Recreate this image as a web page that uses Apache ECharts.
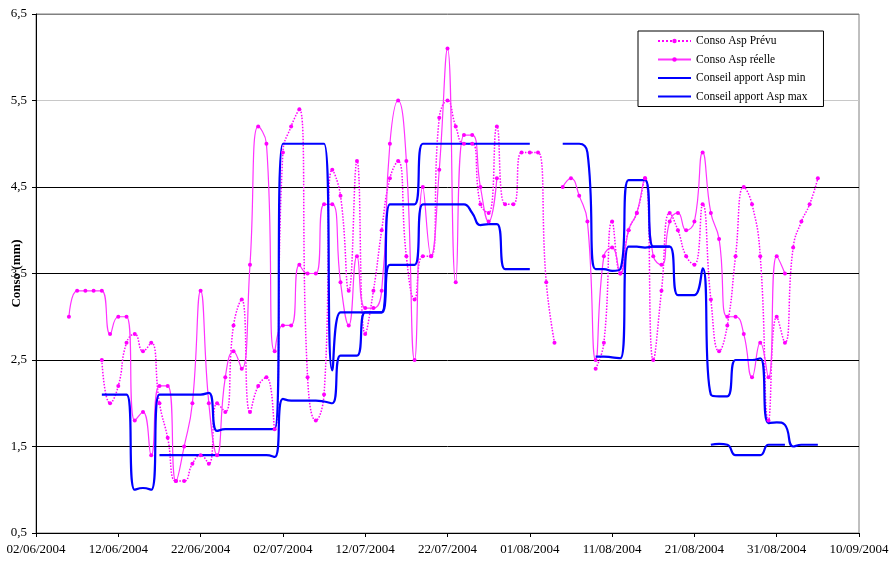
<!DOCTYPE html>
<html>
<head>
<meta charset="utf-8">
<script src="https://cdn.jsdelivr.net/npm/echarts@6/dist/echarts.min.js"></script>
<style>
html,body{margin:0;padding:0;background:#fff;}
#c{width:894px;height:564px;}
</style>
</head>
<body>
<div id="c"></div>
<script>
// ---- DATA ----
const startDate = '02/06/2004';
const endDate = '10/09/2004';
const yTickLabels = ['0,5','1,5','2,5','3,5','4,5','5,5','6,5'];
const seriesNames = ['Conso Asp Prévu','Conso Asp réelle','Conseil apport Asp min','Conseil apport Asp max'];

// Conso Asp Prévu (daily, from 10/06/2004)
const prevuFrom = '10/06/2004';
const prevu = [
  2.5, 2.0, 2.2, 2.7, 2.8, 2.6, 2.7, 2.0,
  1.6, 1.1, 1.1, 1.3, 1.4, 1.3, 2.0, 1.9,
  2.9, 3.2, 1.9, 2.2, 2.3, 1.7, 4.9, 5.2,
  5.4, 2.3, 1.8, 2.1, 4.7, 4.4, 3.3, 4.8,
  2.8, 3.3, 4.0, 4.6, 4.8, 3.7, 3.2, 3.7,
  3.7, 5.3, 5.5, 5.2, 5.0, 5.0, 4.3, 4.2,
  5.2, 4.3, 4.3, 4.9, 4.9, 4.9, 3.4, 2.7,
  null, null, null, null,
  2.4, 2.7, 4.1, 3.5, 4.0, 4.2, 4.6, 2.5,
  3.3, 4.2, 4.0, 3.7, 3.6, 4.3, 3.2, 2.6,
  2.9, 3.7, 4.5, 4.3, 3.7, 1.8, 3.0, 2.7,
  3.8, 4.1, 4.3, 4.6
];

// Conso Asp réelle (daily, from 06/06/2004)
const reelleFrom = '06/06/2004';
const reelle = [
  3.0, 3.3, 3.3, 3.3, 3.3,
  2.8, 3.0, 3.0, 1.8, 1.9, 1.4, 2.2, 2.2,
  1.1, 1.5, 2.0, 3.3, 2.0, 1.4, 2.3, 2.6,
  2.4, 3.6, 5.2, 5.0, 2.6, 2.9, 2.9, 3.6,
  3.5, 3.5, 4.3, 4.3, 3.4, 2.9, 3.7, 3.1,
  3.1, 3.3, 5.0, 5.5, 4.8, 2.5, 4.5, 3.7,
  4.7, 6.1, 3.4, 5.1, 5.1, 4.5, 4.1, 4.6,
  null, null, null, null, null, null, null,
  4.5, 4.6, 4.4, 4.1, 2.5, 3.7, 3.8, 3.5,
  4.0, 4.2, 4.6, 3.7, 3.6, 4.1, 4.2, 4.0,
  4.1, 4.9, 4.2, 3.9, 3.0, 3.0, 2.8, 2.3,
  2.7, 2.3, 3.7, 3.5
];

// Conseil apport Asp min (daily, from 17/06/2004)
const minFrom = '17/06/2004';
const conseilMin = [
  1.4, 1.4, 1.4, 1.4, 1.4, 1.4, 1.4, 1.4,
  1.4, 1.4, 1.4, 1.4, 1.4, 1.4, 1.38,
  2.05, 2.03, 2.03, 2.03, 2.03, 2.02, 2.0, 2.55,
  2.55, 2.55, 3.05, 3.05, 3.05, 3.6, 3.6, 3.6,
  3.6, 4.3, 4.3, 4.3, 4.3, 4.3, 4.3, 4.2,
  4.06, 4.07, 4.07, 3.55, 3.55, 3.55, 3.55,
  null, null, null, null, null, null, null,
  2.54, 2.54, 2.53, 2.52, 3.81, 3.81, 3.8, 3.81,
  3.81, 3.81,
  null, null, null, null,
  1.52, 1.53, 1.52, 1.4, 1.4, 1.4, 1.4, 1.52, 1.52, 1.52
];

// Conseil apport Asp max (daily, from 10/06/2004)
const maxFrom = '10/06/2004';
const conseilMax = [
  2.1, 2.1, 2.1, 2.1, 1.0, 1.02, 1.0, 2.1,
  2.1, 2.1, 2.1, 2.1, 2.1, 2.12, 1.68, 1.7,
  1.7, 1.7, 1.7, 1.7, 1.7, 1.7, 5.0, 5.0,
  5.0, 5.0, 5.0, 5.0, 2.38, 3.05, 3.05, 3.05,
  3.05, 3.05, 3.05, 4.3, 4.3, 4.3, 4.3, 5.0,
  5.0, 5.0, 5.0, 5.0, 5.0, 5.0, 5.0, 5.0,
  5.0, 5.0, 5.0, 5.0, 5.0,
  null, null, null,
  5.0, 5.0, 5.0, 4.9, 3.55, 3.55, 3.53, 3.55,
  4.58, 4.58, 4.58, 3.81, 3.81, 3.81, 3.25, 3.25,
  3.25, 3.56, 2.1, 2.08, 2.08, 2.5, 2.5, 2.5,
  2.52, 1.77, 1.78, 1.75, 1.5, 1.52, 1.52, 1.52
];

// ---- helpers ----
const DAY = 86400000;
function parseD(s){ const p = s.split('/').map(Number); return Date.UTC(p[2], p[1]-1, p[0]); }
function fmtD(t){ const d = new Date(t); const dd = String(d.getUTCDate()).padStart(2,'0'); const mm = String(d.getUTCMonth()+1).padStart(2,'0'); return dd+'/'+mm+'/'+d.getUTCFullYear(); }
const t0 = parseD(startDate);
const nDays = Math.round((parseD(endDate) - t0) / DAY);
const categories = [];
for (let i = 0; i <= nDays; i++) categories.push(fmtD(t0 + i*DAY));
function place(from, values){
  const arr = new Array(nDays+1).fill(null);
  const off = Math.round((parseD(from) - t0) / DAY);
  values.forEach((v,i) => { arr[off+i] = v; });
  return arr;
}

const SERIF = "'Liberation Serif','Times New Roman',serif";
const chart = echarts.init(document.getElementById('c'), null, {renderer:'canvas'});
const option = {
  animation: false,
  backgroundColor: '#ffffff',
  grid: { left: 36, right: 35, top: 14, bottom: 31, show: true, borderColor: '#808080', borderWidth: 1,
          backgroundColor: 'transparent', containLabel: false, outerBoundsMode: 'none' },
  legend: {
    data: [
      { name: seriesNames[0] },
      { name: seriesNames[1] },
      { name: seriesNames[2], itemStyle: { opacity: 0 } },
      { name: seriesNames[3], itemStyle: { opacity: 0 } }
    ],
    orient: 'vertical',
    left: 638, top: 31,
    itemWidth: 33, itemHeight: 5.5, itemGap: 4.5,
    padding: [3, 16, 3, 19],
    borderColor: '#000', borderWidth: 1, borderRadius: 0, backgroundColor: '#fff',
    textStyle: { fontFamily: SERIF, fontSize: 11.5, color: '#000', lineHeight: 14 }
  },
  xAxis: {
    type: 'category',
    data: categories,
    boundaryGap: false,
    axisLine: { lineStyle: { color: '#000', width: 1 } },
    axisTick: { interval: 9, length: 4, lineStyle: { color: '#000' } },
    axisLabel: { interval: 9, margin: 10, fontFamily: SERIF, fontSize: 13, color: '#000' },
    splitLine: { show: false }
  },
  yAxis: {
    type: 'value',
    min: 0.5, max: 6.5, interval: 1,
    name: 'Conso (mm)',
    nameLocation: 'middle',
    nameGap: 12.5,
    nameMoveOverlap: false,
    nameTextStyle: { fontFamily: SERIF, fontSize: 13, fontWeight: 'bold', color: '#000' },
    axisLine: { show: true, lineStyle: { color: '#000', width: 1 } },
    axisTick: { show: true, length: 4, lineStyle: { color: '#000' } },
    axisLabel: { margin: 9, fontFamily: SERIF, fontSize: 13, color: '#000',
      formatter: (v) => yTickLabels[Math.round(v - 0.5)] },
    splitLine: { show: true, lineStyle: { color: ['#000','#000','#000','#000','#000','#c8c8c8','#808080'], width: 1 } }
  },
  series: [
    { name: seriesNames[0], type: 'line', data: place(prevuFrom, prevu), smooth: 0.5,
      symbol: 'circle', symbolSize: 4, showSymbol: true,
      lineStyle: { color: '#FF00FF', width: 1.5, type: 'dotted' },
      itemStyle: { color: '#FF00FF' } },
    { name: seriesNames[1], type: 'line', data: place(reelleFrom, reelle), smooth: 0.5,
      symbol: 'circle', symbolSize: 4, showSymbol: true,
      lineStyle: { color: '#FF33FF', width: 1.2, type: 'solid' },
      itemStyle: { color: '#FF00FF' } },
    { name: seriesNames[2], type: 'line', data: place(minFrom, conseilMin), smooth: 0.5,
      symbol: 'none', lineStyle: { color: '#0000FF', width: 2.2 }, itemStyle: { color: '#0000FF' } },
    { name: seriesNames[3], type: 'line', data: place(maxFrom, conseilMax), smooth: 0.5,
      symbol: 'none', lineStyle: { color: '#0000FF', width: 2.2 }, itemStyle: { color: '#0000FF' } }
  ]
};
chart.setOption(option);
</script>
</body>
</html>
